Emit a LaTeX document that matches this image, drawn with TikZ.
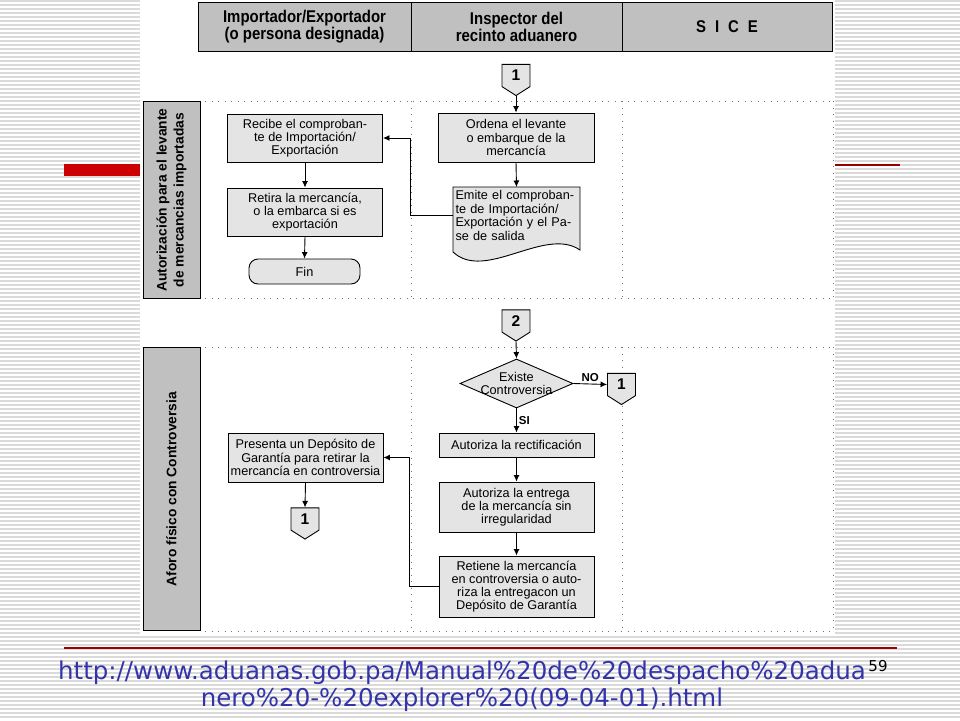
\documentclass[tikz,border=0pt]{standalone}
\usepackage{fontspec}
\setmainfont{Liberation Sans}
\newfontfamily\angosta[FakeStretch=0.88]{Liberation Sans}
\newfontfamily\verdana{DejaVu Sans}
\usepackage{xcolor}
\usepackage{tikz}
\usetikzlibrary{arrows.meta,shapes.geometric,shapes.symbols}

\definecolor{rayas}{RGB}{218,218,218}
\definecolor{grisclaro}{RGB}{228,228,228}
\definecolor{grisoscuro}{RGB}{192,192,192}
\definecolor{rojo}{RGB}{204,0,0}
\definecolor{granate}{RGB}{153,0,0}
\definecolor{azulurl}{RGB}{51,51,170}

\begin{document}
\begin{tikzpicture}[x=1pt,y=-1pt,
  caja/.style={draw,line width=0.9pt,fill=grisclaro,minimum width=155pt,inner sep=1pt,
    align=center,font=\fontsize{12.7}{13.2}\selectfont},
  fin/.style={caja,rounded corners=9pt,minimum width=111pt,minimum height=25pt},
  cabecera/.style={draw,line width=0.9pt,fill=grisoscuro,minimum height=49pt,align=center,
    font=\angosta\bfseries\fontsize{17}{17}\selectfont},
  lado/.style={draw,line width=0.9pt,fill=grisoscuro,minimum height=57pt,rotate=90,align=center,
    font=\bfseries\fontsize{13.8}{17}\selectfont},
  conector/.style={draw,line width=0.9pt,fill=grisclaro,signal,signal to=south,signal from=nowhere,
    signal pointer angle=115,minimum width=28pt,minimum height=25pt,inner sep=0pt,
    font=\bfseries\fontsize{15.5}{15.5}\selectfont},
  rombo/.style={draw,line width=0.9pt,fill=grisclaro,diamond,inner sep=0pt,
    minimum width=113pt,minimum height=49pt},
  etiq/.style={font=\bfseries\fontsize{11.5}{12}\selectfont,inner sep=2pt},
  puntos/.style={black!55,line width=1pt,dash pattern=on 1pt off 5.5pt},
  flecha/.style={line width=0.9pt,-{Latex[length=6.5pt,width=6pt]}}]

  % Fondo
  \useasboundingbox (0,0) rectangle (960,720);
  \fill[white] (0,0) rectangle (960,720);
  \foreach \y in {1,5,...,717}
    \draw[rayas,line width=1.1pt] (0,\y) -- (960,\y);
  \fill[white] (140,0) rectangle (835,635);
  \fill[rojo] (64,164) rectangle (140,176);
  \draw[granate,line width=1.2pt] (835,165) -- (900,165);
  \draw[granate,line width=1.2pt] (64,648) -- (897,648);

  % Encabezado
  \node[cabecera,minimum width=213pt] (imp) at (304.5,26.5) {Importador/Exportador\\(o persona designada)};
  \node[cabecera,minimum width=211pt] (insp) at (516.5,26.5) {Inspector del\\recinto aduanero};
  \node[cabecera,minimum width=210pt] (sice) at (727,26.5) {S\hspace{9pt}I\hspace{9pt}C\hspace{9pt}E};

  % Carriles punteados
  \foreach \ya/\yb in {101/298,347/631} {
    \draw[puntos] (205,\ya) -- (833,\ya);
    \draw[puntos] (205,\yb) -- (833,\yb);
    \foreach \x in {411,622,833}
      \draw[puntos] (\x,\ya) -- (\x,\yb);
  }

  % Autorizacion para el levante
  \node[lado,minimum width=197pt] (lado1) at (171.5,200) {Autorización para el levante\\de mercancias importadas};
  \node[conector] (c1a) at (516,75.5) {1};
  \node[caja,minimum height=48pt] (recibe) at (305,138) {Recibe el comproban-\\te de Importación/\\Exportación};
  \node[caja,minimum height=48pt] (retira) at (305,212) {Retira la mercancía,\\o la embarca si es\\exportación};
  \node[fin] (fin) at (304.5,271.5) {Fin};
  \node[caja,minimum width=156pt,minimum height=49pt] (ordena) at (516,137.5) {Ordena el levante\\o embarque de la\\mercancía};
  \draw[line width=0.9pt,fill=grisclaro] (453,187) -- (580,187) -- (580,250)
    .. controls (545,226) and (485,282) .. (453,252) -- cycle;
  \node[anchor=north,minimum width=127pt,text width=122pt,inner xsep=2.5pt,inner ysep=3pt,align=left,
    font=\fontsize{12.7}{13.6}\selectfont] (emite) at (516.5,187)
    {Emite el comproban-\\te de Importación/\\Exportación y el Pa-\\se de salida};

  \draw[flecha] (c1a.south) -- (ordena.north);
  \draw[flecha] (ordena.south) -- (emite.north);
  \draw[flecha] (emite.west) -- ++(-42,0) |- (recibe.east);
  \draw[flecha] (recibe.south) -- (retira.north);
  \draw[flecha] (retira.south) -- (fin.north);

  % Aforo fisico con controversia
  \node[lado,minimum width=283pt] (lado2) at (171.5,489) {Aforo físico con Controversia};
  \node[conector] (c2) at (516,321) {2};
  \node[rombo,label={[align=center,font=\fontsize{12.7}{13.2}\selectfont]center:Existe\\Controversia}] (existe) at (516.5,383.5) {};
  \node[conector] (c1b) at (621.5,384.5) {1};
  \node[caja,minimum height=24pt] (rectif) at (516.5,445) {Autoriza la rectificación};
  \node[caja,minimum height=50pt] (entrega) at (516.5,507) {Autoriza la entrega\\de la mercancía sin\\irregularidad};
  \node[caja,minimum height=61pt] (retiene) at (516.5,586.5) {Retiene la mercancía\\en controversia o auto-\\riza la entregacon un\\Depósito de Garantía};
  \node[caja,minimum height=49pt] (presenta) at (305.5,457.5) {Presenta un Depósito de\\Garantía para retirar la\\mercancía en controversia};
  \node[conector] (c1c) at (305,519) {1};

  \draw[flecha] (c2.south) -- (existe.north);
  \draw[flecha] (existe.east) -- node[etiq,above] {NO} (c1b.west);
  \draw[flecha] (existe.south) -- node[etiq,right] {SI} (rectif.north);
  \draw[flecha] (rectif.south) -- (entrega.north);
  \draw[flecha] (entrega.south) -- (retiene.north);
  \draw[flecha] (retiene.west) -- ++(-29,0) |- (presenta.east);
  \draw[flecha] (presenta.south) -- (c1c.north);

  % Fuente
  \node[align=center,text=azulurl,font=\verdana\fontsize{24.5}{27}\selectfont] (url) at (462,686.5)
    {http://www.aduanas.gob.pa/Manual\%20de\%20despacho\%20adua\\nero\%20-\%20explorer\%20(09-04-01).html};
  \node[font=\verdana\fontsize{15}{15}\selectfont] (pagina) at (878,666) {59};
\end{tikzpicture}
\end{document}
